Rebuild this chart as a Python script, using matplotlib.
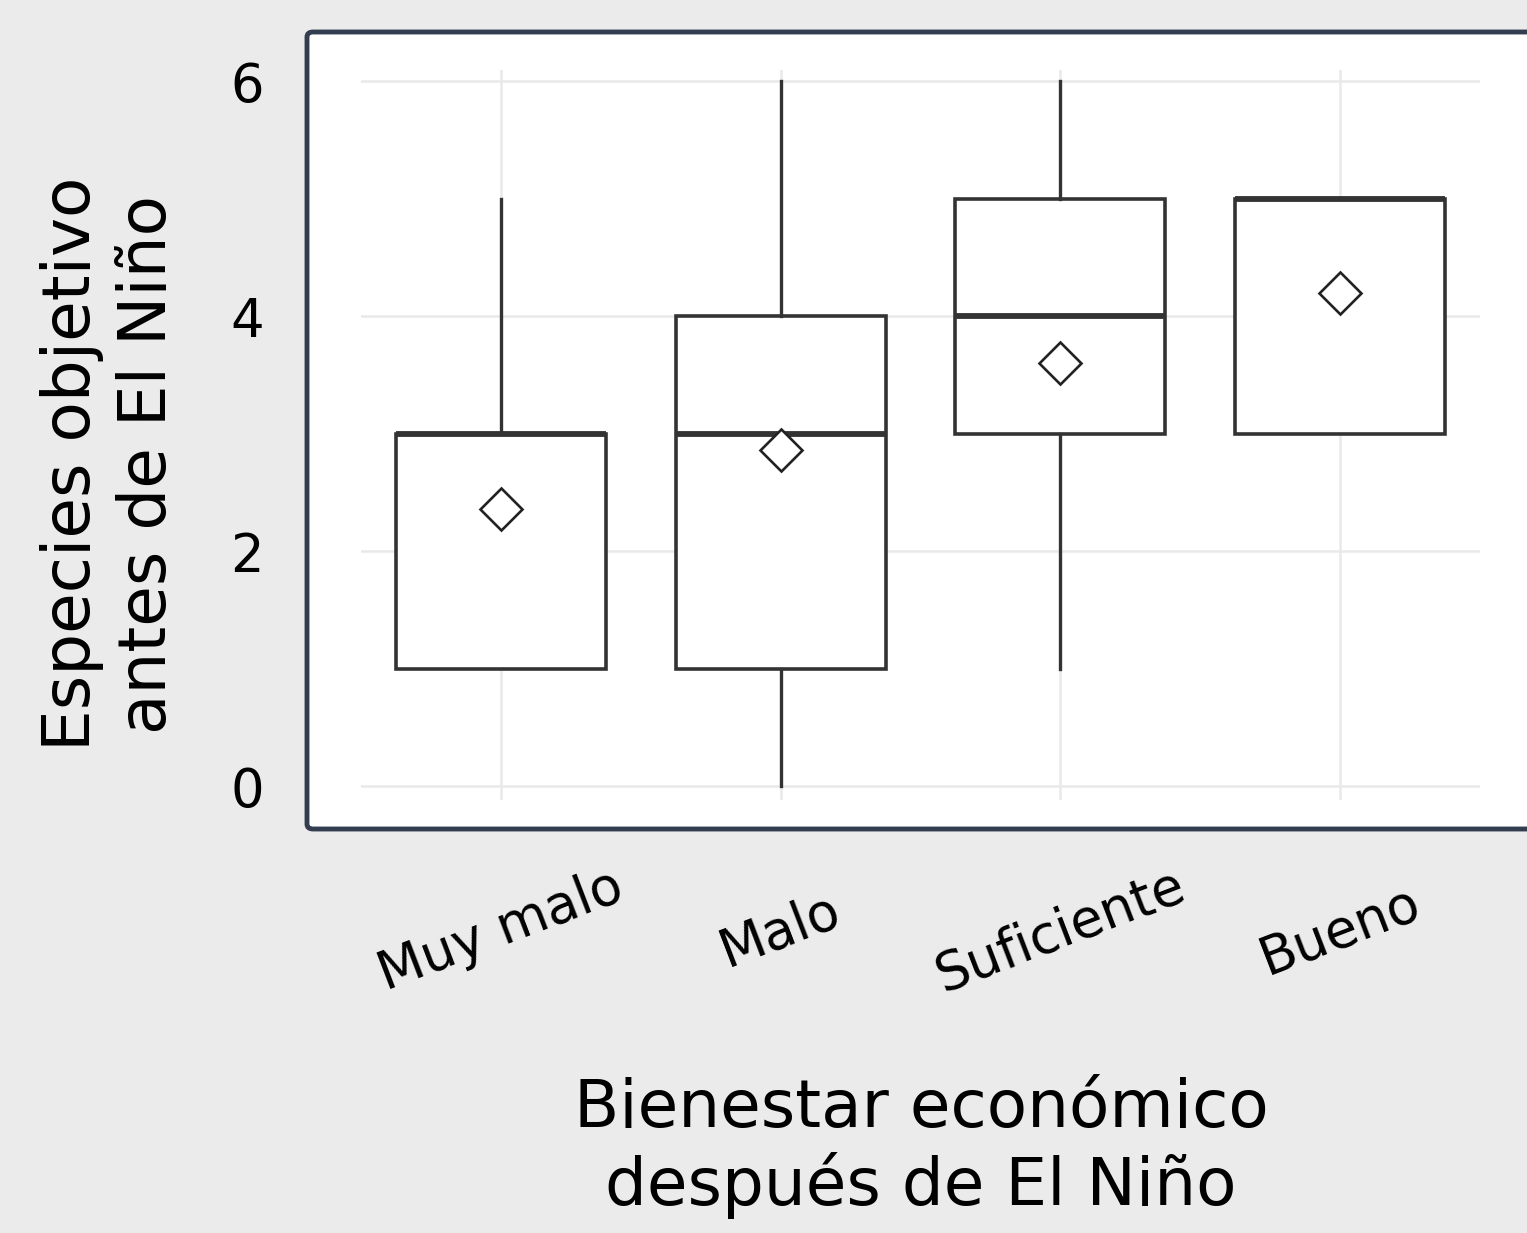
import matplotlib.pyplot as plt
from matplotlib.patches import FancyBboxPatch

# data
categories = ["Muy malo", "Malo", "Suficiente", "Bueno"]
whislo = [1, 0, 1, 3]
q1 = [1, 1, 3, 3]
med = [3, 3, 4, 5]
q3 = [3, 4, 5, 5]
whishi = [5, 6, 6, 5]
means = [2.36, 2.86, 3.60, 4.20]
yticks = [0, 2, 4, 6]

W, H = 1527, 1233
fig = plt.figure(figsize=(W / 100, H / 100), dpi=100)
fig.patch.set_facecolor("#ebebeb")

# panel with dark border (right side runs off the figure)
panel = FancyBboxPatch((307 / W, 1 - 829 / H), 1.2, (829 - 32) / H,
                       boxstyle="round,pad=0,rounding_size=0.004",
                       transform=fig.transFigure, facecolor="white",
                       edgecolor="#323e50", linewidth=3.5, zorder=-10)
fig.patches.append(panel)

ax = fig.add_axes([361 / W, 1 - 800 / H, (1480 - 361) / W, (800 - 70) / H])
ax.set_zorder(1)
ax.set_facecolor("none")
for s in ax.spines.values():
    s.set_visible(False)

stats = []
for i, c in enumerate(categories):
    stats.append({"label": c, "whislo": whislo[i], "q1": q1[i], "med": med[i],
                  "q3": q3[i], "whishi": whishi[i], "mean": means[i], "fliers": []})

pos = list(range(1, len(categories) + 1))
ax.bxp(stats, positions=pos, widths=0.75, showcaps=False, showfliers=False,
       showmeans=True, patch_artist=True,
       boxprops=dict(facecolor="white", edgecolor="#333333", linewidth=2.6),
       whiskerprops=dict(color="#333333", linewidth=2.4),
       medianprops=dict(color="#333333", linewidth=4.2),
       meanprops=dict(marker="D", markersize=21, markerfacecolor="white",
                      markeredgecolor="#222222", markeredgewidth=1.9),
       zorder=3)

ax.set_xlim(0.5, 4.5)
ax.set_ylim(-0.119, 6.094)
ax.set_yticks(yticks)
ax.set_yticklabels([str(v) for v in yticks])
ax.set_xticks(pos)
ax.set_xticklabels(categories, rotation=21, ha="center", va="center",
                   rotation_mode="anchor")
ax.grid(True, color="#e9e9e9", linewidth=1.8, zorder=0)
ax.set_axisbelow(True)
ax.tick_params(axis="both", length=0, labelsize=38, colors="black")
ax.tick_params(axis="y", pad=70)
ax.tick_params(axis="x", pad=94)

fig.text(110 / W, 1 - 464 / H, "Especies objetivo\nantes de El Niño",
         rotation=90, ha="center", va="center", fontsize=47.5,
         multialignment="center", linespacing=1.25)
fig.text(921 / W, 1 - 1148 / H, "Bienestar económico\ndespués de El Niño",
         ha="center", va="center", fontsize=47.5, multialignment="center",
         linespacing=1.2)

fig.savefig("out.png", dpi=100, facecolor=fig.get_facecolor())
